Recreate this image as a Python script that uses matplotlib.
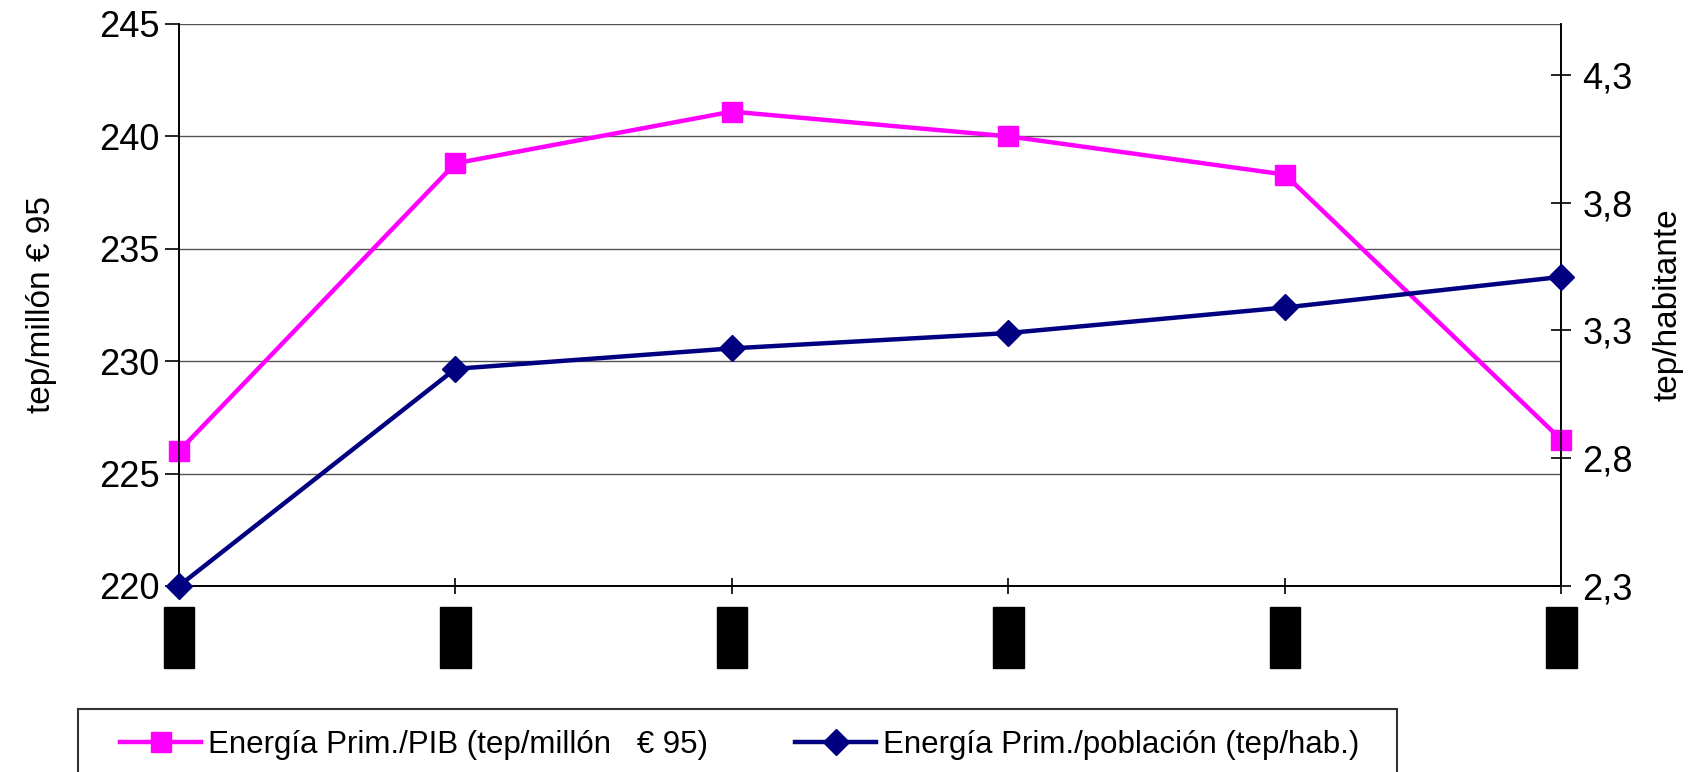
import matplotlib
matplotlib.use("Agg")
import matplotlib.pyplot as plt
from matplotlib.patches import Rectangle
from matplotlib.ticker import FixedLocator, FuncFormatter

plt.rcParams['font.family'] = ['Liberation Sans', 'DejaVu Sans']

# x labels are unreadable in the source (drawn as black blocks)
years = ['1995', '1996', '1997', '1998', '1999', '2000']
energia_pib = [226.0, 238.8, 241.1, 240.0, 238.3, 226.5]   # tep/millon EUR95
energia_pob = [2.30, 3.15, 3.23, 3.29, 3.39, 3.51]         # tep/hab.

pink = '#FF00FF'
navy = '#000080'

fig = plt.figure(figsize=(16.88, 7.72), dpi=100)
ax = fig.add_axes([0.106, 0.241, 0.819, 0.728])
ax2 = ax.twinx()

x = list(range(len(years)))
l1, = ax.plot(x, energia_pib, color=pink, lw=3.2, marker='s', ms=15,
              clip_on=False, zorder=5,
              label='Energía Prim./PIB (tep/millón   € 95)')
l2, = ax2.plot(x, energia_pob, color=navy, lw=3.2, marker='D', ms=13,
               clip_on=False, zorder=5,
               label='Energía Prim./población (tep/hab.)')

ax.set_xlim(0, len(years) - 1)
ax.set_ylim(220, 245)
ax.set_yticks(range(220, 246, 5))
ax.yaxis.grid(True, color='#555555', lw=1)
ax.set_axisbelow(True)

ax2.set_ylim(2.3, 4.5)
ax2.yaxis.set_major_locator(FixedLocator([2.3, 2.8, 3.3, 3.8, 4.3]))
ax2.yaxis.set_major_formatter(FuncFormatter(lambda v, p: f'{v:.1f}'.replace('.', ',')))

for a in (ax, ax2):
    for s in a.spines.values():
        s.set_linewidth(1.2)
        s.set_color('black')
    a.spines['top'].set_visible(False)

ax.tick_params(axis='y', direction='out', length=10, width=1.2, labelsize=26, pad=4)
ax2.tick_params(axis='y', direction='inout', length=14, width=1.2, labelsize=26, pad=8)
ax.tick_params(axis='x', direction='inout', length=12, width=1.2, labelsize=17, pad=12)

ax.set_xticks(x)
ax.set_xticklabels(years, rotation=90, va='top', ha='center')
for t in ax.get_xticklabels():
    t.set_color('black')
    t.set_bbox(dict(facecolor='black', edgecolor='black', pad=3))

ax.set_ylabel('tep/millón € 95', fontsize=24, labelpad=30)
ax2.set_ylabel('tep/habitante', fontsize=24, labelpad=14)

# legend frame (runs off the bottom of the figure, as in the source)
fig.patches.append(Rectangle((78 / 1688, -0.1), (1397 - 78) / 1688, 0.1 + 1 - 709 / 772,
                             transform=fig.transFigure, fill=False,
                             edgecolor='#333333', lw=1.5))
leg = fig.legend(handles=[l1, l2], ncol=2, frameon=False, loc='center left',
                 bbox_to_anchor=(92 / 1688, 1 - 745 / 772),
                 prop={'size': 22.5},
                 handlelength=2.6, handletextpad=0.2, columnspacing=2.8)

fig.savefig('out.png', dpi=100)
